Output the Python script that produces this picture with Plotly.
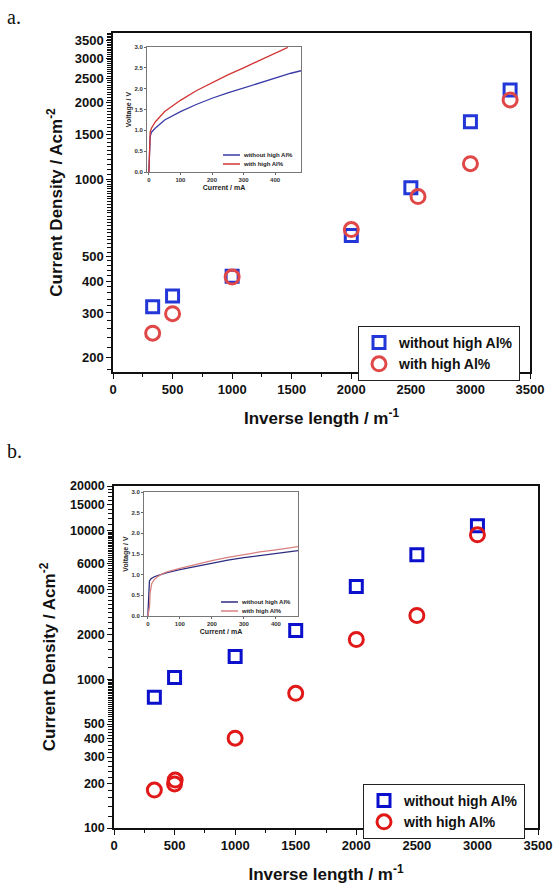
import math
import plotly.graph_objects as go

# ---------------- data: panel a ----------------
a_x_without = [333, 500, 1000, 2000, 2500, 3000, 3333]
a_y_without = [317, 350, 418, 604, 930, 1686, 2248]
a_x_with = [333, 500, 1000, 2000, 2560, 3000, 3333]
a_y_with = [250, 298, 415, 637, 858, 1155, 2054]

# inset a (voltage vs current)
a_in_i_without = [0, 1, 2, 4, 8, 20, 50, 100, 150, 200, 250, 300, 350, 400, 450, 482]
a_in_v_without = [0.0, 0.2, 0.5, 0.85, 0.95, 1.05, 1.25, 1.45, 1.62, 1.77, 1.9, 2.02, 2.14, 2.26, 2.37, 2.43]
a_in_i_with = [0, 1, 2, 4, 8, 20, 50, 100, 150, 200, 250, 300, 350, 400, 440]
a_in_v_with = [0.0, 0.25, 0.6, 0.95, 1.05, 1.2, 1.45, 1.72, 1.95, 2.15, 2.33, 2.5, 2.67, 2.84, 2.99]

# ---------------- data: panel b ----------------
b_x_without = [333, 500, 1000, 1500, 2000, 2500, 3000]
b_y_without = [757, 1031, 1427, 2130, 4210, 6900, 10800]
b_x_with = [333, 500, 505, 1000, 1500, 2000, 2500, 3000]
b_y_with = [180, 198, 210, 402, 806, 1855, 2690, 9400]

# inset b
b_in_i_without = [0, 2, 3, 5, 10, 20, 40, 60, 100, 150, 200, 250, 300, 350, 400, 469]
b_in_v_without = [0.0, 0.3, 0.7, 0.85, 0.9, 0.95, 1.0, 1.05, 1.12, 1.2, 1.28, 1.35, 1.41, 1.46, 1.51, 1.58]
b_in_i_with = [0, 5, 7, 9, 12, 20, 30, 45, 60, 100, 150, 200, 250, 300, 350, 400, 469]
b_in_v_with = [0.0, 0.2, 0.55, 0.7, 0.78, 0.88, 0.95, 1.02, 1.07, 1.15, 1.25, 1.34, 1.42, 1.49, 1.55, 1.6, 1.68]

# tick labels
a_yticks = [200, 300, 400, 500, 1000, 1500, 2000, 2500, 3000, 3500]
b_yticks = [100, 200, 300, 400, 500, 1000, 2000, 4000, 6000, 10000, 15000, 20000]
x_ticks = [0, 500, 1000, 1500, 2000, 2500, 3000, 3500]
inset_xticks = [0, 100, 200, 300, 400]
inset_yticks = [0.0, 0.5, 1.0, 1.5, 2.0, 2.5, 3.0]
series_names = ["without high Al%", "with high Al%"]

W, H = 555, 886
def xd(a, b):
    return [a / W, b / W]
def yd(top, bottom):
    return [1 - bottom / H, 1 - top / H]

BLUE_A, RED_A = "#2336d8", "#e04848"
BLUE_B, RED_B = "#0a10cc", "#e01818"
IN_A = ["#3a3aa8", "#d03434"]
IN_B = ["#2c2c80", "#d88080"]
FONT = "Liberation Sans"

fig = go.Figure()

# panel a main
fig.add_trace(go.Scatter(x=a_x_without, y=a_y_without, mode="markers", name=series_names[0],
                         marker=dict(symbol="square-open", size=12, color=BLUE_A, line=dict(width=3)),
                         xaxis="x", yaxis="y", legend="legend"))
fig.add_trace(go.Scatter(x=a_x_with, y=a_y_with, mode="markers", name=series_names[1],
                         marker=dict(symbol="circle-open", size=14, color=RED_A, line=dict(width=3)),
                         xaxis="x", yaxis="y", legend="legend"))
# inset a
fig.add_trace(go.Scatter(x=a_in_i_without, y=a_in_v_without, mode="lines", name=series_names[0],
                         line=dict(color=IN_A[0], width=1.3), xaxis="x2", yaxis="y2", showlegend=False))
fig.add_trace(go.Scatter(x=a_in_i_with, y=a_in_v_with, mode="lines", name=series_names[1],
                         line=dict(color=IN_A[1], width=1.3), xaxis="x2", yaxis="y2", showlegend=False))
# panel b main
fig.add_trace(go.Scatter(x=b_x_without, y=b_y_without, mode="markers", name=series_names[0],
                         marker=dict(symbol="square-open", size=12, color=BLUE_B, line=dict(width=3)),
                         xaxis="x3", yaxis="y3", legend="legend2"))
fig.add_trace(go.Scatter(x=b_x_with, y=b_y_with, mode="markers", name=series_names[1],
                         marker=dict(symbol="circle-open", size=14, color=RED_B, line=dict(width=3)),
                         xaxis="x3", yaxis="y3", legend="legend2"))
# inset b
fig.add_trace(go.Scatter(x=b_in_i_without, y=b_in_v_without, mode="lines", name=series_names[0],
                         line=dict(color=IN_B[0], width=1.3), xaxis="x4", yaxis="y4", showlegend=False))
fig.add_trace(go.Scatter(x=b_in_i_with, y=b_in_v_with, mode="lines", name=series_names[1],
                         line=dict(color=IN_B[1], width=1.3), xaxis="x4", yaxis="y4", showlegend=False))

tickfont = dict(family=FONT, size=13, color="#111", weight="bold")
titlefont = dict(family=FONT, size=17, color="#111", weight="bold")

def main_x(domain, anchor, standoff):
    return dict(domain=domain, anchor=anchor, range=[0, 3500], tickmode="array", tickvals=x_ticks,
                ticks="outside", ticklen=5, tickwidth=1.3, tickcolor="#111",
                minor=dict(tickmode="array", tickvals=[250, 750, 1250, 1750, 2250, 2750, 3250],
                           ticks="outside", ticklen=3, tickcolor="#111"),
                showline=True, linecolor="#111", linewidth=1.5, mirror=True, automargin=False,
                showgrid=False, zeroline=False, tickfont=tickfont,
                title=dict(text="Inverse length / m<sup>-1</sup>", font=titlefont, standoff=standoff))

def minor_log(lo, hi, steps):
    vals = []
    for dec, step in steps:
        v = dec
        while v < dec * 10:
            if lo <= v <= hi:
                vals.append(v)
            v += step
    return vals

def inset_axes(domain, anchor, rng, tickvals, title, fmt=None):
    d = dict(domain=domain, anchor=anchor, range=rng, tickmode="array", tickvals=tickvals,
             ticks="outside", ticklen=2, tickcolor="#666",
             showline=True, linecolor="#777", linewidth=1, mirror=True, automargin=False,
             showgrid=False, zeroline=False,
             tickfont=dict(family=FONT, size=6, color="#333", weight="bold"),
             title=dict(text=title, font=dict(family=FONT, size=7, color="#222", weight="bold"),
                        standoff=2))
    if fmt:
        d["tickformat"] = fmt
    return d

annotations = [
    dict(text="a.", x=5 / W, y=1 - 17 / H, xref="paper", yref="paper", xanchor="left", yanchor="middle",
         showarrow=False, font=dict(family="Liberation Serif", size=20, color="#111")),
    dict(text="b.", x=5 / W, y=1 - 451 / H, xref="paper", yref="paper", xanchor="left", yanchor="middle",
         showarrow=False, font=dict(family="Liberation Serif", size=20, color="#111")),
]
shapes = []
# inset legends (compact, built from the series names and colours)
for (lx, ly0, cols) in [(223, 155, IN_A), (221, 602, IN_B)]:
    for k, name in enumerate(series_names):
        yy = ly0 + 9 * k
        shapes.append(dict(type="line", xref="paper", yref="paper", x0=lx / W, x1=(lx + 17) / W,
                           y0=1 - yy / H, y1=1 - yy / H, line=dict(color=cols[k], width=1.5)))
        annotations.append(dict(text=name, x=(lx + 18) / W, y=1 - yy / H, xref="paper", yref="paper",
                                xanchor="left", yanchor="middle", showarrow=False,
                                font=dict(family=FONT, size=6, color="#222", weight="bold")))

fig.update_layout(
    width=W, height=H, margin=dict(l=0, r=0, t=0, b=0, autoexpand=False),
    paper_bgcolor="white", plot_bgcolor="white", template="none",
    xaxis=main_x(xd(113, 530), "y", 16),
    yaxis=dict(domain=yd(33, 372), anchor="x", type="log", automargin=False,
               range=[math.log10(176), math.log10(3760)], tickmode="array", tickvals=a_yticks,
               ticktext=[str(v) for v in a_yticks],
               ticks="outside", ticklen=5, tickwidth=1.3, tickcolor="#111",
               minor=dict(tickmode="array", tickvals=minor_log(176, 3760, [(100, 20), (1000, 50)]),
                          ticks="outside", ticklen=4, tickcolor="#111", tickwidth=1),
               showline=True, linecolor="#111", linewidth=1.5, mirror=True,
               showgrid=False, zeroline=False, tickfont=tickfont,
               title=dict(text="Current Density / Acm<sup>-2</sup>", font=titlefont, standoff=8)),
    xaxis2=inset_axes(xd(147, 301), "y2", [-6, 482], inset_xticks, "Current / mA"),
    yaxis2=inset_axes(yd(47, 172), "x2", [0, 3.0], inset_yticks, "Voltage / V", ".1f"),
    xaxis3=main_x(xd(114, 538), "y3", 16),
    yaxis3=dict(domain=yd(486, 828), anchor="x3", type="log", automargin=False,
                range=[2, math.log10(20000)], tickmode="array", tickvals=b_yticks,
                ticktext=[str(v) for v in b_yticks],
                ticks="outside", ticklen=5, tickwidth=1.3, tickcolor="#111",
                minor=dict(tickmode="array",
                           tickvals=minor_log(100, 20000, [(100, 20), (1000, 200), (10000, 1000)]),
                           ticks="outside", ticklen=4, tickcolor="#111", tickwidth=1),
                showline=True, linecolor="#111", linewidth=1.5, mirror=True,
                showgrid=False, zeroline=False,
                tickfont=dict(family=FONT, size=12.5, color="#111", weight="bold"),
                title=dict(text="Current Density / Acm<sup>-2</sup>", font=titlefont, standoff=10)),
    xaxis4=inset_axes(xd(144, 298), "y4", [-12, 469], inset_xticks, "Current / mA"),
    yaxis4=inset_axes(yd(492, 616), "x4", [0, 3.0], inset_yticks, "Voltage / V", ".1f"),
    legend=dict(x=358 / W, y=1 - 326 / H, xanchor="left", yanchor="top",
                bordercolor="#222", borderwidth=1, bgcolor="white",
                font=dict(family=FONT, size=14, color="#111", weight="bold"),
                tracegroupgap=0, itemwidth=30),
    legend2=dict(x=363 / W, y=1 - 784 / H, xanchor="left", yanchor="top",
                 bordercolor="#222", borderwidth=1, bgcolor="white",
                 font=dict(family=FONT, size=14, color="#111", weight="bold"),
                 tracegroupgap=0, itemwidth=30),
    annotations=annotations,
    shapes=shapes,
)

fig.write_html("out.html", config={"displayModeBar": False},
               post_script="document.body.style.margin='0';document.body.style.overflow='hidden';")
